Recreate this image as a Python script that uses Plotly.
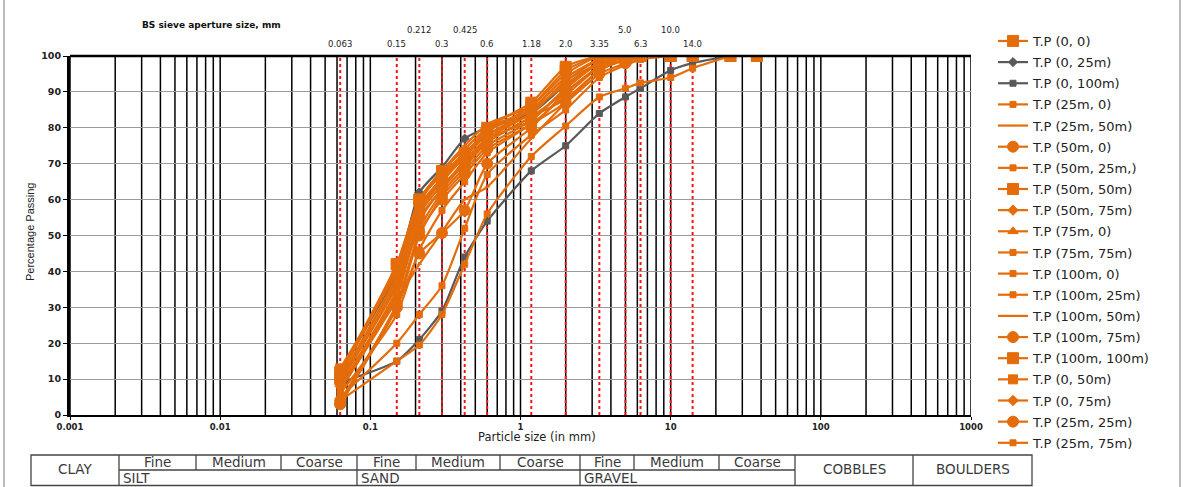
import math
import plotly.graph_objects as go

# ---------------- data ----------------
sieve_sizes = [0.063, 0.15, 0.212, 0.3, 0.425, 0.6, 1.18, 2.0, 3.35, 5.0, 6.3, 10.0, 14.0, 25.0, 37.5]

series_names = [
    "T.P (0, 0)", "T.P (0, 25m)", "T.P (0, 100m)", "T.P (25m, 0)", "T.P (25m, 50m)",
    "T.P (50m, 0)", "T.P (50m, 25m,)", "T.P (50m, 50m)", "T.P (50m, 75m)", "T.P (75m, 0)",
    "T.P (75m, 75m)", "T.P (100m, 0)", "T.P (100m, 25m)", "T.P (100m, 50m)", "T.P (100m, 75m)",
    "T.P (100m, 100m)", "T.P (0, 50m)", "T.P (0, 75m)", "T.P (25m, 25m)", "T.P (25m, 75m)",
]

tp_0_0 = [10, 38, 56, 64, 70, 76, 83, 90, 97, 99, 100, 100, 100, 100, 100]
tp_0_25 = [12, 40, 62, 69, 77, 80, 84, 92, 98, 99.5, 100]
tp_0_100 = [9, 15, 21, 29, 44, 54, 68, 75, 84, 88.6, 91, 96, 98, 100]
tp_25_0 = [8, 35, 58, 66, 72, 78, 85, 94, 99, 100, 100]
tp_25_50 = [11, 41, 60, 68, 75, 81, 86, 95, 100, 100]
tp_50_0 = [3, 30, 50, 61, 68, 75, 82, 91, 98, 100, 100]
tp_50_25 = [7, 33, 54, 63, 70, 77, 84, 93, 99, 100]
tp_50_50 = [12, 42, 60, 67, 73, 79, 86, 96, 100, 100, 100]
tp_50_75 = [9, 36, 52, 62, 69, 76, 83, 88, 96, 99, 100]
tp_75_0 = [10, 39, 59, 68, 74, 80, 85, 92, 98, 100]
tp_75_75 = [6, 28, 46, 57, 65, 73, 81, 89, 97, 100]
tp_100_0 = [5, 20, 28, 36, 52, 67, 78, 85, 94, 97.5, 99, 100]
tp_100_25 = [4, 15, 19.5, 28, 42, 56, 72, 80.5, 88.6, 91, 92.5, 94, 96.6, 100]
tp_100_50 = [7, 32, 42, 51, 60, 63.5, 77, 87, 96, 99, 100]
tp_100_75 = [4, 30, 45, 50.7, 57, 70, 80, 90, 97, 100]
tp_100_100 = [11, 42, 60, 68, 72, 80, 87, 97, 100, 100, 100, 100, 100, 100, 100]
tp_0_50 = [13, 40, 57, 66, 73, 78, 84, 93, 98, 100, 100, 100]
tp_0_75 = [8, 34, 55, 63, 71, 77, 82, 91, 98, 100]
tp_25_25 = [3, 31, 51, 60, 67, 74, 81, 87, 95, 98, 100]
tp_25_75 = [9, 37, 57, 65, 72, 79, 85, 94, 99, 100]

series_values = [
    tp_0_0, tp_0_25, tp_0_100, tp_25_0, tp_25_50, tp_50_0, tp_50_25, tp_50_50, tp_50_75, tp_75_0,
    tp_75_75, tp_100_0, tp_100_25, tp_100_50, tp_100_75, tp_100_100, tp_0_50, tp_0_75, tp_25_25, tp_25_75,
]

x_tick_vals = [0.001, 0.01, 0.1, 1, 10, 100, 1000]
x_tick_text = ["0.001", "0.01", "0.1", "1", "10", "100", "1000"]
sieve_label_text = ["0.063", "0.15", "0.212", "0.3", "0.425", "0.6", "1.18", "2.0", "3.35", "5.0", "6.3", "10.0", "14.0"]
sieve_label_row = [0, 0, 1, 0, 1, 0, 0, 0, 0, 1, 0, 1, 0]

# ---------------- styles ----------------
ORANGE = "#E46C0A"
GRAY = "#595959"
DV = "DejaVu Sans, Verdana, sans-serif"
styles = [
    (ORANGE, "square", 11), (GRAY, "diamond", 7), (GRAY, "square", 6), (ORANGE, "square", 6),
    (ORANGE, "line-ew", 4), (ORANGE, "circle", 11), (ORANGE, "square", 6), (ORANGE, "square", 11),
    (ORANGE, "diamond", 8), (ORANGE, "triangle-up", 9), (ORANGE, "square", 6), (ORANGE, "square", 6),
    (ORANGE, "square", 6), (ORANGE, "line-ew", 4), (ORANGE, "circle", 11), (ORANGE, "square", 11),
    (ORANGE, "square", 9), (ORANGE, "diamond", 8), (ORANGE, "circle", 11), (ORANGE, "square", 6),
]

fig = go.Figure()
for i, (name, vals) in enumerate(zip(series_names, series_values)):
    color, sym, size = styles[i]
    fig.add_trace(go.Scatter(
        x=sieve_sizes[:len(vals)], y=vals, name=name, mode="lines+markers",
        line=dict(color=color, width=2.2, shape="spline", smoothing=0.6),
        marker=dict(color=color, symbol=sym, size=size, line=dict(color=color, width=1)),
        legendgroup="g%d" % i,
    ))

shapes = []
grid_x = [m * 10 ** e for e in range(-3, 3) for m in range(1, 10)] + [1000]
for gx in grid_x:
    shapes.append(dict(type="line", xref="x", yref="paper", x0=gx, x1=gx, y0=0, y1=1,
                       line=dict(color="black", width=1.5), layer="below"))
for sx in sieve_sizes[:13]:
    shapes.append(dict(type="line", xref="x", yref="paper", x0=sx, x1=sx, y0=0, y1=1,
                       line=dict(color="#FF1010", width=2, dash="dot"), layer="below"))
shapes.append(dict(type="line", xref="paper", yref="paper", x0=0, x1=1, y0=1, y1=1,
                   line=dict(color="black", width=2.5)))

W, H = 901.0, 359.0
def px(x):
    return (x - 70) / W
def py(y):
    return (415 - y) / H

t_top, t_mid, t_bot = 455, 470, 485.5
t_left, t_right = 31, 1032
tl = dict(color="#444444", width=1.3)
shapes.append(dict(type="rect", xref="paper", yref="paper", x0=px(t_left), x1=px(t_right),
                   y0=py(t_bot), y1=py(t_top), line=tl))
col_bounds = [119, 196, 281, 357, 416, 500, 580, 634, 719, 795, 913]
for cb in col_bounds:
    full = cb in (119, 357, 580, 795, 913)
    shapes.append(dict(type="line", xref="paper", yref="paper", x0=px(cb), x1=px(cb),
                       y0=py(t_top), y1=py(t_bot if full else t_mid), line=tl))
shapes.append(dict(type="line", xref="paper", yref="paper", x0=px(119), x1=px(795),
                   y0=py(t_mid), y1=py(t_mid), line=tl))
shapes.append(dict(type="line", xref="paper", yref="paper", x0=px(4), x1=px(4), y0=py(0), y1=py(487),
                   line=dict(color="#BBBBBB", width=2)))
shapes.append(dict(type="line", xref="paper", yref="paper", x0=px(1180), x1=px(1180), y0=py(0), y1=py(487),
                   line=dict(color="#BBBBBB", width=2)))

annotations = []
tfont = dict(family=DV, size=13.5, color="#3A3A3A")
top_cells = [("CLAY", 31, 119, 469), ("Fine", 119, 196, 462), ("Medium", 196, 281, 462), ("Coarse", 281, 357, 462),
             ("Fine", 357, 416, 462), ("Medium", 416, 500, 462), ("Coarse", 500, 580, 462),
             ("Fine", 580, 634, 462), ("Medium", 634, 719, 462), ("Coarse", 719, 795, 462),
             ("COBBLES", 795, 913, 469), ("BOULDERS", 913, 1032, 469)]
for txt, a, b, yy in top_cells:
    annotations.append(dict(text=txt, xref="paper", yref="paper", x=px((a + b) / 2), y=py(yy),
                            showarrow=False, font=tfont, xanchor="center", yanchor="middle"))
for txt, a in [("SILT", 121), ("SAND", 359), ("GRAVEL", 582)]:
    annotations.append(dict(text=txt, xref="paper", yref="paper", x=px(a), y=py(478),
                            showarrow=False, font=tfont, xanchor="left", yanchor="middle"))

sfont = dict(family=DV, size=8.5, color="#222222")
for sx, lab, row in zip(sieve_sizes[:13], sieve_label_text, sieve_label_row):
    annotations.append(dict(text=lab, xref="x", yref="paper", x=math.log10(sx), y=py(30 if row else 44),
                            showarrow=False, font=sfont, xanchor="center", yanchor="middle"))
annotations.append(dict(text="<b>BS sieve aperture size, mm</b>", xref="paper", yref="paper",
                        x=px(211), y=py(25), showarrow=False, font=dict(family=DV, size=9, color="#111111"),
                        xanchor="center", yanchor="middle"))
annotations.append(dict(text="Particle size (in mm)", xref="paper", yref="paper",
                        x=px(537), y=py(437), showarrow=False,
                        font=dict(family=DV, size=11.5, color="#222222"),
                        xanchor="center", yanchor="middle"))
annotations.append(dict(text="Percentage Passing", xref="paper", yref="paper",
                        x=px(30), y=py(232), showarrow=False, textangle=-90,
                        font=dict(family="Liberation Sans Narrow, Liberation Sans, Arial, sans-serif", size=11, color="#222222"),
                        xanchor="center", yanchor="middle"))

fig.update_layout(
    width=1186, height=487,
    margin=dict(l=70, r=215, t=56, b=72),
    paper_bgcolor="white", plot_bgcolor="white",
    showlegend=True,
    legend=dict(x=px(993), y=py(26), xanchor="left", yanchor="top",
                font=dict(family=DV, size=13, color="#222222"),
                tracegroupgap=1.25, bgcolor="rgba(0,0,0,0)"),
    xaxis=dict(type="log", range=[-3, 3], tickvals=x_tick_vals,
               ticktext=["<b>%s</b>" % t for t in x_tick_text],
               showgrid=False, showline=True, linecolor="black", linewidth=2,
               ticks="outside", ticklen=3, tickcolor="black",
               tickfont=dict(family=DV, size=8.5, color="#222222"),
               zeroline=False),
    yaxis=dict(range=[0, 100], dtick=10, showgrid=True, gridcolor="#9A9A9A", gridwidth=1,
               showline=True, linecolor="black", linewidth=3, ticks="outside", ticklen=4,
               tickcolor="black",
               tickfont=dict(family=DV, size=9.5, color="#222222"),
               tickprefix="<b>", ticksuffix="</b>", zeroline=False),
    shapes=shapes,
    annotations=annotations,
)
try:
    fig.update_layout(legend_maxheight=480)
except Exception:
    pass

fig.write_html("out.html", config={"displayModeBar": False})

with open("out.html", "r", encoding="utf-8") as f:
    html = f.read()
html = html.replace("<head>", "<head><style>html,body{margin:0;padding:0;overflow:hidden;}</style>", 1)
with open("out.html", "w", encoding="utf-8") as f:
    f.write(html)
